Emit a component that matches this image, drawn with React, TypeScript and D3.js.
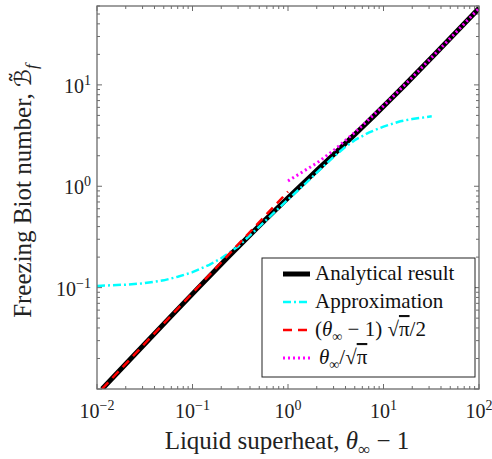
import * as d3 from "d3";

// Analytical result (black)
const analyticalX = [0.01131, 0.02268, 0.0571, 0.1155, 0.2361, 0.3613, 0.4908, 0.6242, 0.9014, 1.3387, 1.6418, 2.1096, 2.9155, 3.7437, 4.5866, 6.299, 8.033, 11.53, 16.81, 34.49, 69.92, 100.05];
const analyticalY = [0.01, 0.02, 0.05, 0.1, 0.2, 0.3, 0.4, 0.5, 0.7, 1.0, 1.2, 1.5, 2, 2.5, 3, 4, 5, 7, 10, 20, 40, 57];

// Approximation (cyan dash-dot)
const approxX = [0.01, 0.02, 0.03, 0.05, 0.07, 0.1, 0.15, 0.2, 0.3, 0.5, 0.7, 1, 1.5, 2, 3, 4, 5, 7, 10, 15, 20, 32];
const approxY = [0.104, 0.107, 0.11, 0.118, 0.128, 0.142, 0.168, 0.195, 0.255, 0.4, 0.54, 0.74, 1.05, 1.36, 1.95, 2.45, 2.85, 3.38, 3.88, 4.38, 4.6, 4.9];

// Small-superheat asymptote (red dashed)
const smallX = [0.01131, 1];
const smallY = [0.01002, 0.8862];

// Large-superheat asymptote (magenta dotted)
const largeX = [1, 2, 3, 5, 10, 20, 50, 100];
const largeY = [1.128, 1.693, 2.257, 3.385, 6.206, 11.85, 28.77, 56.98];

const xMajor = [-2, -1, 0, 1, 2];
const yMajor = [-1, 0, 1];

const W = 492;
const H = 459;
const m = { left: 97, right: 479, top: 6, bottom: 389 };
const axisColor = "#6b6b6b";
const serif = "'Liberation Serif', 'Times New Roman', serif";

const x = d3.scaleLog().domain([0.01, 100]).range([m.left, m.right]);
const y = d3.scaleLog().domain([0.01, 60]).range([m.bottom, m.top]);

const toPts = (xs: number[], ys: number[]) => xs.map((v, i) => [v, ys[i]] as [number, number]);
const line = d3.line<[number, number]>().x((d) => x(d[0])).y((d) => y(d[1]));

export default function App() {
  const xTicks = x.ticks();
  const yTicks = y.ticks();
  const isMajor = (v: number) => Math.abs(Math.log10(v) - Math.round(Math.log10(v))) < 1e-6;

  const legendRows = [
    { color: "#000", width: 5, dash: "", label: <tspan>Analytical result</tspan> },
    { color: "#00ffff", width: 2.5, dash: "8,3,2,3", label: <tspan>Approximation</tspan> },
    {
      color: "#ff0000",
      width: 2.5,
      dash: "9,6",
      label: (
        <>
          <tspan>(</tspan>
          <tspan fontStyle="italic">θ</tspan>
          <tspan fontSize="14" dy="5">∞</tspan>
          <tspan dy="-5"> − 1) √</tspan>
          <tspan textDecoration="overline">π</tspan>
          <tspan>/2</tspan>
        </>
      ),
    },
    {
      color: "#ff00ff",
      width: 3,
      dash: "2,3",
      label: (
        <>
          <tspan fontStyle="italic" dx="4">θ</tspan>
          <tspan fontSize="14" dy="5">∞</tspan>
          <tspan dy="-5">/√</tspan>
          <tspan textDecoration="overline">π</tspan>
        </>
      ),
    },
  ];

  return (
    <svg width={W} height={H} style={{ position: "absolute", left: 0, top: 0, background: "#fff" }} fontFamily={serif}>
      <defs>
        <clipPath id="plot">
          <rect x={m.left} y={m.top} width={m.right - m.left} height={m.bottom - m.top} />
        </clipPath>
      </defs>

      {/* ticks, inward on all four sides */}
      <g stroke={axisColor} strokeWidth={1}>
        {xTicks.map((t, i) => {
          const len = isMajor(t) ? 5 : 3;
          const px = x(t);
          return (
            <g key={"xt" + i}>
              <line x1={px} x2={px} y1={m.bottom} y2={m.bottom - len} />
              <line x1={px} x2={px} y1={m.top} y2={m.top + len} />
            </g>
          );
        })}
        {yTicks.map((t, i) => {
          const len = isMajor(t) ? 5 : 3;
          const py = y(t);
          return (
            <g key={"yt" + i}>
              <line x1={m.left} x2={m.left + len} y1={py} y2={py} />
              <line x1={m.right} x2={m.right - len} y1={py} y2={py} />
            </g>
          );
        })}
      </g>

      {/* curves */}
      <g clipPath="url(#plot)" fill="none">
        <path d={line(toPts(analyticalX, analyticalY)) || ""} stroke="#000" strokeWidth={5} />
        <path d={line(toPts(approxX, approxY)) || ""} stroke="#00ffff" strokeWidth={2.5} strokeDasharray="8,3,2,3" />
        <path d={line(toPts(smallX, smallY)) || ""} stroke="#ff0000" strokeWidth={2.5} strokeDasharray="9,6" />
        <path d={line(toPts(largeX, largeY)) || ""} stroke="#ff00ff" strokeWidth={3} strokeDasharray="2,3" />
      </g>

      {/* axes box */}
      <rect x={m.left} y={m.top} width={m.right - m.left} height={m.bottom - m.top} fill="none" stroke={axisColor} strokeWidth={1.3} />

      {/* x tick labels */}
      {xMajor.map((e) => (
        <text key={"xl" + e} x={x(Math.pow(10, e))} y={418} textAnchor="middle" fontSize="20" fill="#222">
          10<tspan fontSize="14" dy="-8">{e < 0 ? "−" + -e : e}</tspan>
        </text>
      ))}
      {/* y tick labels */}
      {yMajor.map((e) => (
        <text key={"yl" + e} x={91} y={y(Math.pow(10, e)) + 8} textAnchor="end" fontSize="20" fill="#222">
          10<tspan fontSize="14" dy="-8">{e < 0 ? "−" + -e : e}</tspan>
        </text>
      ))}

      {/* axis titles */}
      <text x={287} y={449} textAnchor="middle" fontSize="25" fill="#222">
        <tspan>Liquid superheat, </tspan>
        <tspan fontStyle="italic">θ</tspan>
        <tspan fontSize="17" dy="6">∞</tspan>
        <tspan dy="-6"> − 1</tspan>
      </text>
      <text transform="translate(31,191) rotate(-90)" textAnchor="middle" fontSize="25" fill="#222">
        <tspan>Freezing Biot number, </tspan>
        <tspan fontFamily="'DejaVu Sans'" fontSize="23">{"ℬ\u0303"}</tspan>
        <tspan fontStyle="italic" fontSize="17" dy="6">f</tspan>
      </text>

      {/* legend */}
      <g>
        <rect x={262} y={258} width={213} height={119} fill="#fff" stroke="#222" strokeWidth={1} />
        {legendRows.map((r, i) => {
          const cy = 274 + i * 28;
          return (
            <g key={"lg" + i}>
              <line x1={283} x2={310} y1={cy} y2={cy} stroke={r.color} strokeWidth={r.width} strokeDasharray={r.dash} />
              <text x={315} y={cy + 6} fontSize="21" fill="#111">
                {r.label}
              </text>
            </g>
          );
        })}
      </g>
    </svg>
  );
}
